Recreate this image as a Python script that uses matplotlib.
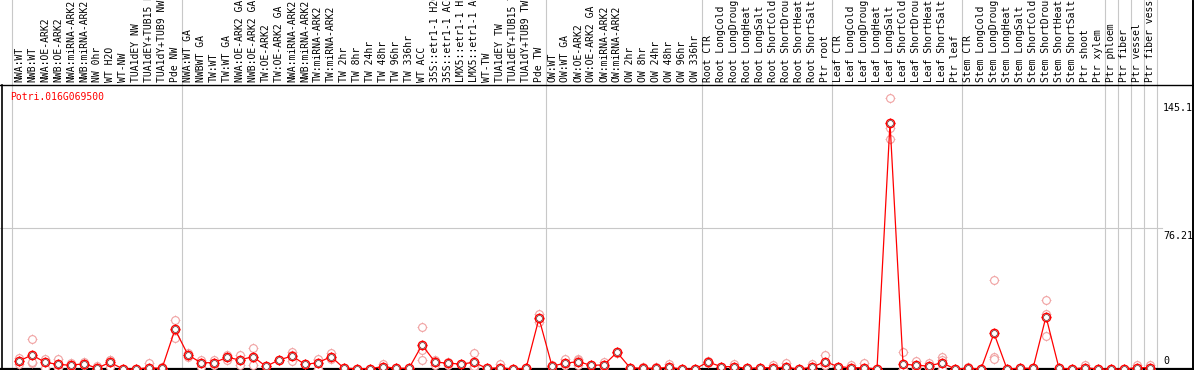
import matplotlib
matplotlib.use("Agg")
import matplotlib.pyplot as plt
import numpy as np

gene = "Potri.016G069500"

labels = [
    "NWA:WT", "NWB:WT", "NWA:OE-ARK2", "NWB:OE-ARK2", "NWA:miRNA-ARK2", "NWB:miRNA-ARK2",
    "NW 0hr", "WT H2O", "WT-NW", "TUA1dEY NW", "TUA1dEY+TUB15 NW", "TUA1dY+TUB9 NW", "Pde NW",
    "NWA:WT GA", "NWBWT GA", "TW:WT", "TW:WT GA", "NWA:OE-ARK2 GA", "NWB:OE-ARK2 GA",
    "TW:OE-ARK2", "TW:OE-ARK2 GA", "NWA:miRNA-ARK2", "NWB:miRNA-ARK2", "TW:miRNA-ARK2",
    "TW:miRNA-ARK2", "TW 2hr", "TW 8hr", "TW 24hr", "TW 48hr", "TW 96hr", "TW 336hr",
    "WT ACC", "35S::etr1-1 H2O", "35S::etr1-1 ACC", "LMX5::etr1-1 H2O", "LMX5::etr1-1 ACC",
    "WT-TW", "TUA1dEY TW", "TUA1dEY+TUB15 TW", "TUA1dY+TUB9 TW", "Pde TW",
    "OW:WT", "OW:WT GA", "OW:OE-ARK2", "OW:OE-ARK2 GA", "OW:miRNA-ARK2", "OW:miRNA-ARK2",
    "OW 2hr", "OW 8hr", "OW 24hr", "OW 48hr", "OW 96hr", "OW 336hr",
    "Root CTR", "Root LongCold", "Root LongDrought", "Root LongHeat", "Root LongSalt",
    "Root ShortCold", "Root ShortDrought", "Root ShortHeat", "Root ShortSalt", "Ptr root",
    "Leaf CTR", "Leaf LongCold", "Leaf LongDrought", "Leaf LongHeat", "Leaf LongSalt",
    "Leaf ShortCold", "Leaf ShortDrought", "Leaf ShortHeat", "Leaf ShortSalt", "Ptr leaf",
    "Stem CTR", "Stem LongCold", "Stem LongDrought", "Stem LongHeat", "Stem LongSalt",
    "Stem ShortCold", "Stem ShortDrought", "Stem ShortHeat", "Stem ShortSalt", "Ptr shoot",
    "Ptr xylem", "Ptr phloem", "Ptr fiber", "Ptr vessel", "Ptr fiber vessel",
]

group_sizes = [13, 28, 12, 10, 10, 11, 1, 1, 1, 1]

mean_vals = [
    4.3, 7.6, 3.6, 2.5, 2.0, 2.9, 0.4, 3.6, 0, 0, 0.7, 0.3, 21.4,
    7.6, 3.4, 3.4, 6.3, 4.9, 6.7, 1.4, 4.9, 7.0, 2.5, 3.4, 6.7, 0.4, 0.2, 0.2, 1.3,
    0.4, 0.4, 13.0, 3.8, 3.1, 2.7, 3.6, 0.3, 0.7, 0, 0.3, 27.4,
    1.6, 3.1, 4.0, 2.0, 2.2, 9.0, 0.7, 0.4, 0.4, 0.9, 0, 0,
    3.8, 1.3, 1.3, 0.3, 0.7, 0.7, 0.9, 0, 0.9, 4.0,
    1.3, 0.7, 0.7, 0, 133.1, 2.7, 2.0, 1.6, 3.4, 0,
    0.4, 0, 19.3, 0, 0.4, 0.4, 28.3, 0.4, 0, 0.7, 0,
    0, 0, 0.7, 0.7,
]

rep_a = [
    6.1, 16.0, 4.9, 5.2, 3.1, 3.8, 1.6, 4.9, 0, 0, 3.4, 0.9, 26.5,
    8.8, 4.3, 4.9, 7.6, 7.6, 11.2, 1.4, 4.9, 9.4, 2.5, 4.9, 8.5, 0.4, 0.2, 0.2, 2.5,
    0.4, 0.4, 22.5, 4.9, 3.4, 2.7, 8.8, 0.3, 2.5, 0, 0.3, 29.7,
    2.2, 5.2, 5.2, 2.0, 3.8, 9.4, 0.7, 1.3, 1.3, 2.7, 0, 0,
    4.3, 1.3, 2.5, 0.3, 0.7, 2.2, 3.4, 0, 2.7, 7.6,
    1.3, 2.2, 3.1, 0, 146.3, 9.0, 4.3, 3.4, 6.3, 0,
    1.3, 0, 48.1, 0, 0.4, 0.4, 37.3, 0.4, 0, 2.2, 0,
    0, 0, 2.2, 2.2,
]

rep_b = [
    2.5, 3.0, 0.4, 0.4, 1.3, 2.9, 0, 1.3, 0, 0, 0, 0, 16.6,
    7.6, 1.3, 3.4, 4.9, 2.2, 2.2, 1.4, 4.9, 4.3, 2.5, 0, 6.3, 0.4, 0.2, 0.2, 0.7,
    0.4, 0.4, 10.3, 2.2, 2.2, 2.7, 0.4, 0.3, 0, 0, 0.3, 26.9,
    1.3, 2.2, 2.2, 2.0, 1.3, 8.8, 0.7, 0, 0, 0, 0, 0,
    3.4, 1.3, 0.7, 0.3, 0.7, 0, 0, 0, 0, 2.2,
    1.3, 0, 0, 0, 130.1, 0, 1.3, 0.7, 4.9, 0,
    0, 0, 6.7, 0, 0.4, 0.4, 17.8, 0.4, 0, 0, 0,
    0, 0, 0, 0,
]

rep_c = [
    4.3, 3.8, 5.5, 1.9, 1.6, 2.0, 0, 4.6, 0, 0, 0, 0, 21.1,
    6.4, 4.6, 1.9, 6.4, 4.9, 6.7, 1.4, 4.9, 7.3, 2.5, 5.3, 5.3, 0.4, 0.2, 0.2, 0.7,
    0.4, 0.4, 4.7, 4.3, 3.7, 2.7, 1.6, 0.3, 0, 0, 0.3, 25.6,
    1.3, 1.9, 4.6, 2.0, 1.5, 8.8, 0.7, 0, 0, 0, 0, 0,
    3.7, 1.3, 0.7, 0.3, 0.7, 0, 0, 0, 0, 2.2,
    1.3, 0, 0, 0, 124.2, 0, 0.5, 0.7, 0, 0,
    0, 0, 5.2, 0, 0.4, 0.4, 29.8, 0.4, 0, 0, 0,
    0, 0, 0, 0,
]

y_ticks = [145.1, 76.21]

# figure is laid out in pixels: 13 px per sample, 1.85 px per unit
W, H = 1194, 370
fig = plt.figure(figsize=(W / 100, H / 100), dpi=100)
ax = fig.add_axes([0, 0, 1, 1])
ax.set_xlim(-19 / 13, (W - 19) / 13)
ax.set_ylim(-1 / 1.85, 369 / 1.85)
ax.axis("off")

x = np.arange(len(labels))
top = 284.5 / 1.85  # header line

red = "#ff0000"
pink = "#f0a0a0"
grey = "#c8c8c8"

# group separators
edges = np.concatenate([[0], np.cumsum(group_sizes)]) - 0.5
for e in edges:
    ax.axvline(e, color=grey, lw=0.8, zorder=1)
for t in y_ticks[1:]:
    ax.plot([-19 / 13, 88 - 0.1], [t, t], color=grey, lw=0.8, zorder=1)

# frame
ax.axhline(top, color="black", lw=1.0, zorder=2)
ax.axhline(0, color="black", lw=1.6, zorder=2)
ax.plot([-17 / 13, -17 / 13], [0, top], color="black", lw=1.2, zorder=2)
ax.plot([1174 / 13, 1174 / 13], [0, 199], color="black", lw=1.4, zorder=2)

# replicates
for reps in (rep_a, rep_b, rep_c):
    ax.plot(x, reps, ls="none", marker="+", ms=7, mew=0.6, color=pink, zorder=3)
    ax.plot(x, reps, ls="none", marker="o", ms=5.6, mew=0.8, mfc="white", mec=pink, zorder=3)

# mean line
ax.plot(x, mean_vals, color=red, lw=0.9, zorder=4)
ax.plot(x, mean_vals, ls="none", marker="+", ms=7.5, mew=0.7, color=red, zorder=5)
ax.plot(x, mean_vals, ls="none", marker="o", ms=6, mew=1.0, mfc="white", mec=red, zorder=5)
ax.plot(x, mean_vals, ls="none", marker="o", ms=4.2, mew=0.4, mfc="none", mec="#400000", zorder=6)

mono = "DejaVu Sans Mono"
for i, lab in enumerate(labels):
    ax.text(i, top + 1.2, lab, rotation=90, ha="center", va="bottom",
            fontsize=7, family=mono, zorder=7)

ax.text(-9 / 13, 272 / 1.85, gene, color=red, fontsize=7, family=mono,
        ha="left", va="center")

for t in y_ticks:
    ax.text(88, t - 1.5, str(t), fontsize=7.2, family=mono, ha="left", va="top")
ax.text(88, 1.6, "0", fontsize=7.2, family=mono, ha="left", va="bottom")

fig.savefig("out.png", dpi=100)
